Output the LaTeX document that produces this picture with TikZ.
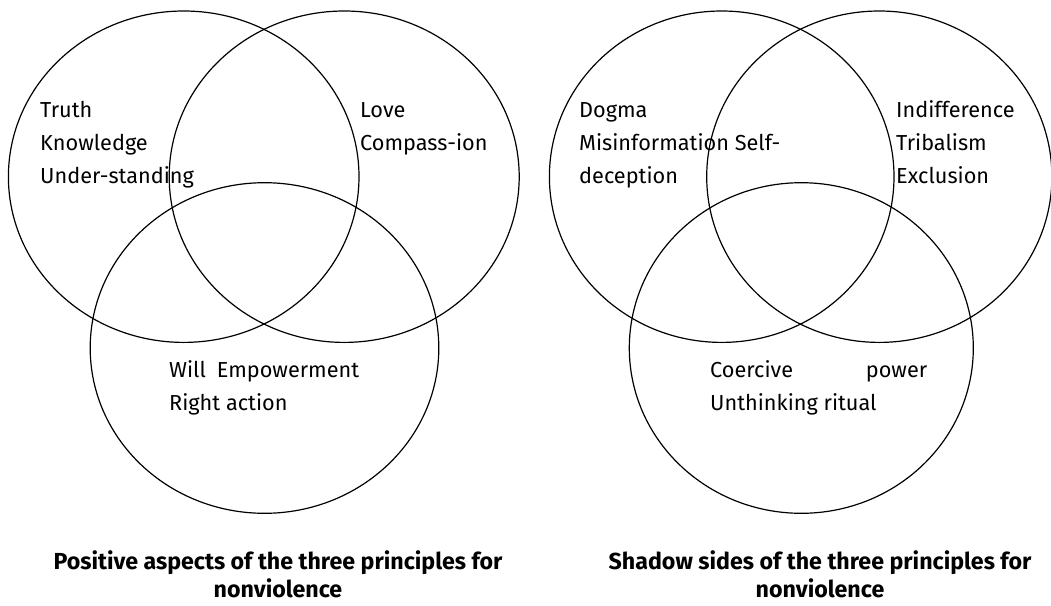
\documentclass[tikz,border=0pt]{standalone}
\usepackage{fontspec}
\setmainfont{Fira Sans}

\begin{document}
\begin{tikzpicture}[x=1pt,y=-1pt,
    ring/.style={line width=1.2pt},
    words/.style={anchor=base west,align=left,inner sep=0pt,font=\fontsize{21.7}{33}\selectfont},
    caption/.style={anchor=base,align=center,inner sep=0pt,font=\bfseries\fontsize{23.2}{28}\selectfont}]
    \useasboundingbox (0,0) rectangle (1051,605);
    % positive side
    \draw[ring] (183.7,176.7) ellipse [x radius=175.3, y radius=165.7];
    \draw[ring] (344.2,176.7) ellipse [x radius=175, y radius=165.7];
    \draw[ring] (264.5,348) ellipse [x radius=174.3, y radius=165.3];
    \node[words] (truth) at (40,183) {Truth\\Knowledge\\Under-standing};
    \node[words] (love) at (360,150) {Love\\Compass-ion};
    \node[words] (will) at (169,410) {\makebox[190pt][s]{Will Empowerment}\\Right action};
    % shadow side
    \draw[ring] (721.7,176.7) ellipse [x radius=172.3, y radius=165.7];
    \draw[ring] (879.3,176.7) ellipse [x radius=172.6, y radius=165.7];
    \draw[ring] (801.3,348) ellipse [x radius=172, y radius=165.3];
    \node[words] (dogma) at (579,183) {Dogma\\Misinformation Self-\\deception};
    \node[words] (indiff) at (896,183) {Indifference\\Tribalism\\Exclusion};
    \node[words] (coerce) at (710,410) {\makebox[217pt][s]{Coercive power}\\Unthinking ritual};
    % captions
    \node[caption] (poscap) at (278,597) {Positive aspects of the three principles for\\nonviolence};
    \node[caption] (shadcap) at (820,597) {Shadow sides of the three principles for\\nonviolence};
\end{tikzpicture}
\end{document}
